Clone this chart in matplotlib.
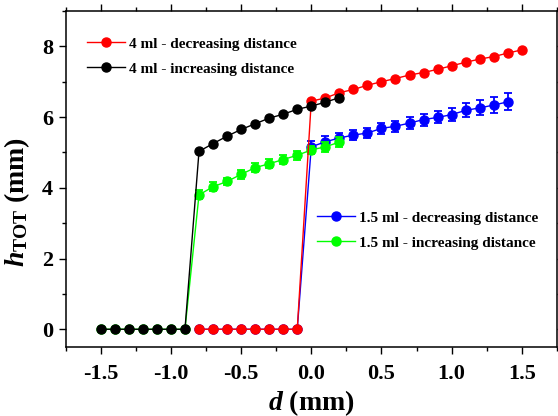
import matplotlib
matplotlib.use("Agg")
import matplotlib.pyplot as plt
from matplotlib.ticker import MultipleLocator

# d (mm) positions
d_dec_4ml = [-0.8, -0.7, -0.6, -0.5, -0.4, -0.3, -0.2, -0.1, 0.0, 0.1, 0.2, 0.3, 0.4, 0.5,
             0.6, 0.7, 0.8, 0.9, 1.0, 1.1, 1.2, 1.3, 1.4, 1.5]
d_dec_15ml = [-0.8, -0.7, -0.6, -0.5, -0.4, -0.3, -0.2, -0.1, 0.0, 0.1, 0.2, 0.3, 0.4, 0.5,
              0.6, 0.7, 0.8, 0.9, 1.0, 1.1, 1.2, 1.3, 1.4]
d_inc = [-1.5, -1.4, -1.3, -1.2, -1.1, -1.0, -0.9, -0.8, -0.7, -0.6, -0.5, -0.4, -0.3,
         -0.2, -0.1, 0.0, 0.1, 0.2]

# h_TOT (mm)
h_dec_4ml = [0, 0, 0, 0, 0, 0, 0, 0, 6.45, 6.54, 6.69, 6.78, 6.90, 7.00, 7.09, 7.19,
             7.26, 7.35, 7.45, 7.55, 7.64, 7.71, 7.81, 7.90]
h_inc_4ml = [0, 0, 0, 0, 0, 0, 0, 5.03, 5.25, 5.46, 5.65, 5.81, 5.97, 6.08, 6.22,
             6.31, 6.42, 6.55]
h_dec_15ml = [0, 0, 0, 0, 0, 0, 0, 0, 5.16, 5.30, 5.41, 5.49, 5.55, 5.68, 5.74, 5.83,
              5.93, 5.99, 6.07, 6.19, 6.26, 6.34, 6.43]
err_dec_15ml = [0, 0, 0, 0, 0, 0, 0, 0, 0.15, 0.17, 0.15, 0.15, 0.15, 0.16, 0.16, 0.17,
                0.17, 0.17, 0.18, 0.20, 0.21, 0.22, 0.24]
h_inc_15ml = [0, 0, 0, 0, 0, 0, 0, 3.80, 4.03, 4.18, 4.38, 4.57, 4.68, 4.80, 4.92,
              5.07, 5.16, 5.29]
err_inc_15ml = [0, 0, 0, 0, 0, 0, 0, 0.13, 0.12, 0.10, 0.12, 0.12, 0.13, 0.13, 0.13,
                0.12, 0.14, 0.15]

labels = ["4 ml - decreasing distance", "4 ml - increasing distance",
          "1.5 ml - decreasing distance", "1.5 ml - increasing distance"]

SERIF = "Liberation Serif"


def main():
    plt.rcParams["font.family"] = SERIF
    plt.rcParams["font.weight"] = "bold"
    plt.rcParams["axes.labelweight"] = "bold"
    plt.rcParams["axes.unicode_minus"] = False
    plt.rcParams["mathtext.fontset"] = "custom"
    plt.rcParams["mathtext.it"] = SERIF + ":italic:bold"
    plt.rcParams["mathtext.rm"] = SERIF + ":bold"
    plt.rcParams["mathtext.bf"] = SERIF + ":bold"

    fig = plt.figure(figsize=(5.58, 4.16), dpi=100)
    ax = fig.add_axes([0.1177, 0.166, 0.8803, 0.8076])

    mk = dict(marker="o", markersize=6.5, linewidth=1.0)
    eb = dict(elinewidth=1.3, capsize=2.8, capthick=1.3)

    # draw order: red over blue at the zeros, black over green
    blue = ax.errorbar(d_dec_15ml, h_dec_15ml, yerr=err_dec_15ml, color="#0000ff",
                       zorder=2, **mk, **eb)
    green = ax.errorbar(d_inc, h_inc_15ml, yerr=err_inc_15ml, color="#00ff00",
                        zorder=2.5, **mk, **eb)
    red, = ax.plot(d_dec_4ml, h_dec_4ml, color="#ff0000", zorder=3, **mk)
    black, = ax.plot(d_inc, h_inc_4ml, color="black", zorder=4, **mk)

    ax.set_xlim(-1.75, 1.75)
    ax.set_ylim(-0.5, 9)
    ax.xaxis.set_minor_locator(MultipleLocator(0.25))
    ax.yaxis.set_minor_locator(MultipleLocator(1))
    ax.set_xticks([-1.5, -1.0, -0.5, 0.0, 0.5, 1.0, 1.5])
    ax.set_xticklabels(["-1.5", "-1.0", "-0.5", "0.0", "0.5", "1.0", "1.5"])
    ax.set_yticks([0, 2, 4, 6, 8])

    for s in ax.spines.values():
        s.set_linewidth(1.1)
    ax.tick_params(which="both", direction="out", top=True, right=True, width=1.0)
    ax.tick_params(which="major", length=5, labelsize=16)
    ax.tick_params(which="minor", length=3)
    ax.tick_params(axis="x", pad=7)
    ax.tick_params(axis="y", pad=4)

    ax.set_xlabel(r"$d$ (mm)", fontsize=20, labelpad=3)
    ax.set_ylabel(r"$h_{\mathrm{TOT}}$ (mm)", fontsize=20)
    ax.yaxis.set_label_coords(-0.068, 0.43)

    leg_kw = dict(frameon=False, fontsize=11, handlelength=2.5, handletextpad=0.25,
                  labelspacing=0.75, borderpad=0, borderaxespad=0, loc="upper left")
    leg1 = ax.legend([red, black], labels[:2], bbox_to_anchor=(0.043, 0.923), **leg_kw)
    ax.add_artist(leg1)
    ax.legend([blue[0], green[0]], labels[2:], bbox_to_anchor=(0.5115, 0.405), **leg_kw)

    fig.savefig("out.png", dpi=100)
    plt.close(fig)


if __name__ == "__main__":
    main()
